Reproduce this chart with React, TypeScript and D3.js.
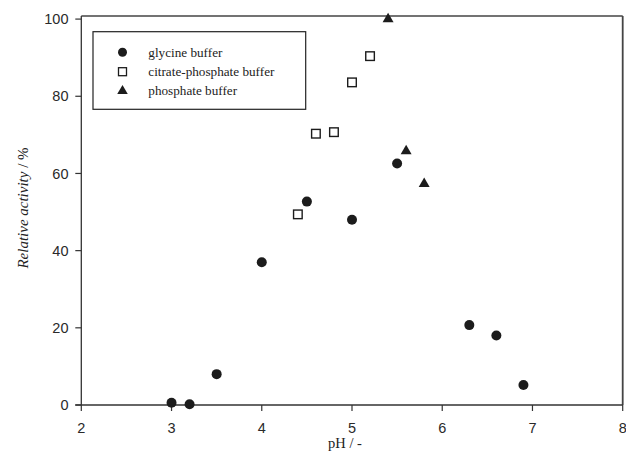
import React from "react";
import * as d3 from "d3";

const glycinePH = [3.0, 3.2, 3.5, 4.0, 4.5, 5.0, 5.5, 6.3, 6.6, 6.9];
const glycineAct = [0.6, 0.2, 8.0, 37.0, 52.7, 48.0, 62.6, 20.7, 18.0, 5.2];
const citratePH = [4.4, 4.6, 4.8, 5.0, 5.2];
const citrateAct = [49.4, 70.3, 70.7, 83.6, 90.4];
const phosphatePH = [5.4, 5.6, 5.8];
const phosphateAct = [100.0, 65.8, 57.3];
const xTicks = [2, 3, 4, 5, 6, 7, 8];
const yTicks = [0, 20, 40, 60, 80, 100];
const legendLabels = ["glycine buffer", "citrate-phosphate buffer", "phosphate buffer"];

const W = 626, H = 470;
const left = 81.3, right = 622.7, top = 16, bottom = 405;

export default function App() {
  const x = d3.scaleLinear().domain([2, 8]).range([left, right]);
  const y = d3.scaleLinear().domain([0, 100.8]).range([bottom, top]);
  const ink = "#1c1c1c";
  const axis = "#333";
  const tri = d3.symbol().type(d3.symbolTriangle).size(52)();
  const triL = d3.symbol().type(d3.symbolTriangle).size(48)();

  const glycine = glycinePH.map((p, i) => [p, glycineAct[i]]);
  const citrate = citratePH.map((p, i) => [p, citrateAct[i]]);
  const phosphate = phosphatePH.map((p, i) => [p, phosphateAct[i]]);

  const lx = 122.5;
  const rows = [52.3, 71.7, 91];

  return (
    <svg width={W} height={H} style={{ position: "absolute", left: 0, top: 0, background: "#fff" }}>
      {/* top and right frame */}
      <line x1={left} x2={right} y1={top} y2={top} stroke="#444" strokeWidth={1.6} />
      <line x1={right} x2={right} y1={top} y2={bottom} stroke="#444" strokeWidth={1.8} />
      {/* left axis */}
      <line x1={left} x2={left} y1={top} y2={bottom} stroke={axis} strokeWidth={1.3} />
      {yTicks.map((t) => (
        <g key={"y" + t}>
          <line x1={left - 6} x2={left} y1={y(t)} y2={y(t)} stroke={axis} strokeWidth={1.2} />
          <text x={68.5} y={y(t)} dy="0.36em" textAnchor="end" fontFamily="Liberation Sans, Arial, sans-serif" fontSize={14.5} fill="#2a2a2a">{t}</text>
        </g>
      ))}
      {/* bottom axis */}
      <line x1={left - 6} x2={right} y1={bottom} y2={bottom} stroke={axis} strokeWidth={1.3} />
      {xTicks.map((t) => (
        <g key={"x" + t}>
          <line x1={x(t)} x2={x(t)} y1={bottom} y2={bottom + 6} stroke={axis} strokeWidth={1.2} />
          <text x={x(t)} y={433} textAnchor="middle" fontFamily="Liberation Sans, Arial, sans-serif" fontSize={14.5} fill="#2a2a2a">{t}</text>
        </g>
      ))}
      {/* axis titles */}
      <text x={345} y={448} textAnchor="middle" fontFamily="Liberation Serif, Times New Roman, serif" fontSize={14.5} fill="#222">pH / -</text>
      <text transform={`translate(28,208) rotate(-90)`} textAnchor="middle" fontFamily="Liberation Serif, Times New Roman, serif" fontSize={15} fill="#222">
        <tspan fontStyle="italic">Relative activity</tspan>
        <tspan> / %</tspan>
      </text>
      {/* data */}
      {glycine.map((d, i) => (
        <circle key={"g" + i} cx={x(d[0])} cy={y(d[1])} r={5} fill={ink} />
      ))}
      {citrate.map((d, i) => (
        <rect key={"c" + i} x={x(d[0]) - 4.3} y={y(d[1]) - 4.3} width={8.6} height={8.6} fill="#fff" stroke={ink} strokeWidth={1.4} />
      ))}
      {phosphate.map((d, i) => (
        <path key={"p" + i} d={tri} transform={`translate(${x(d[0])},${y(d[1])})`} fill={ink} />
      ))}
      {/* legend */}
      <rect x={93} y={31.7} width={212.7} height={77.6} fill="#fff" stroke="#222" strokeWidth={1.2} />
      <circle cx={lx} cy={rows[0]} r={4.5} fill={ink} />
      <rect x={lx - 4} y={rows[1] - 4} width={8} height={8} fill="#fff" stroke={ink} strokeWidth={1.3} />
      <path d={triL} transform={`translate(${lx},${rows[2]})`} fill={ink} />
      {legendLabels.map((l, i) => (
        <text key={l} x={148.3} y={rows[i]} dy="0.33em" fontFamily="Liberation Serif, Times New Roman, serif" fontSize={13.2} fill="#222">{l}</text>
      ))}
    </svg>
  );
}
